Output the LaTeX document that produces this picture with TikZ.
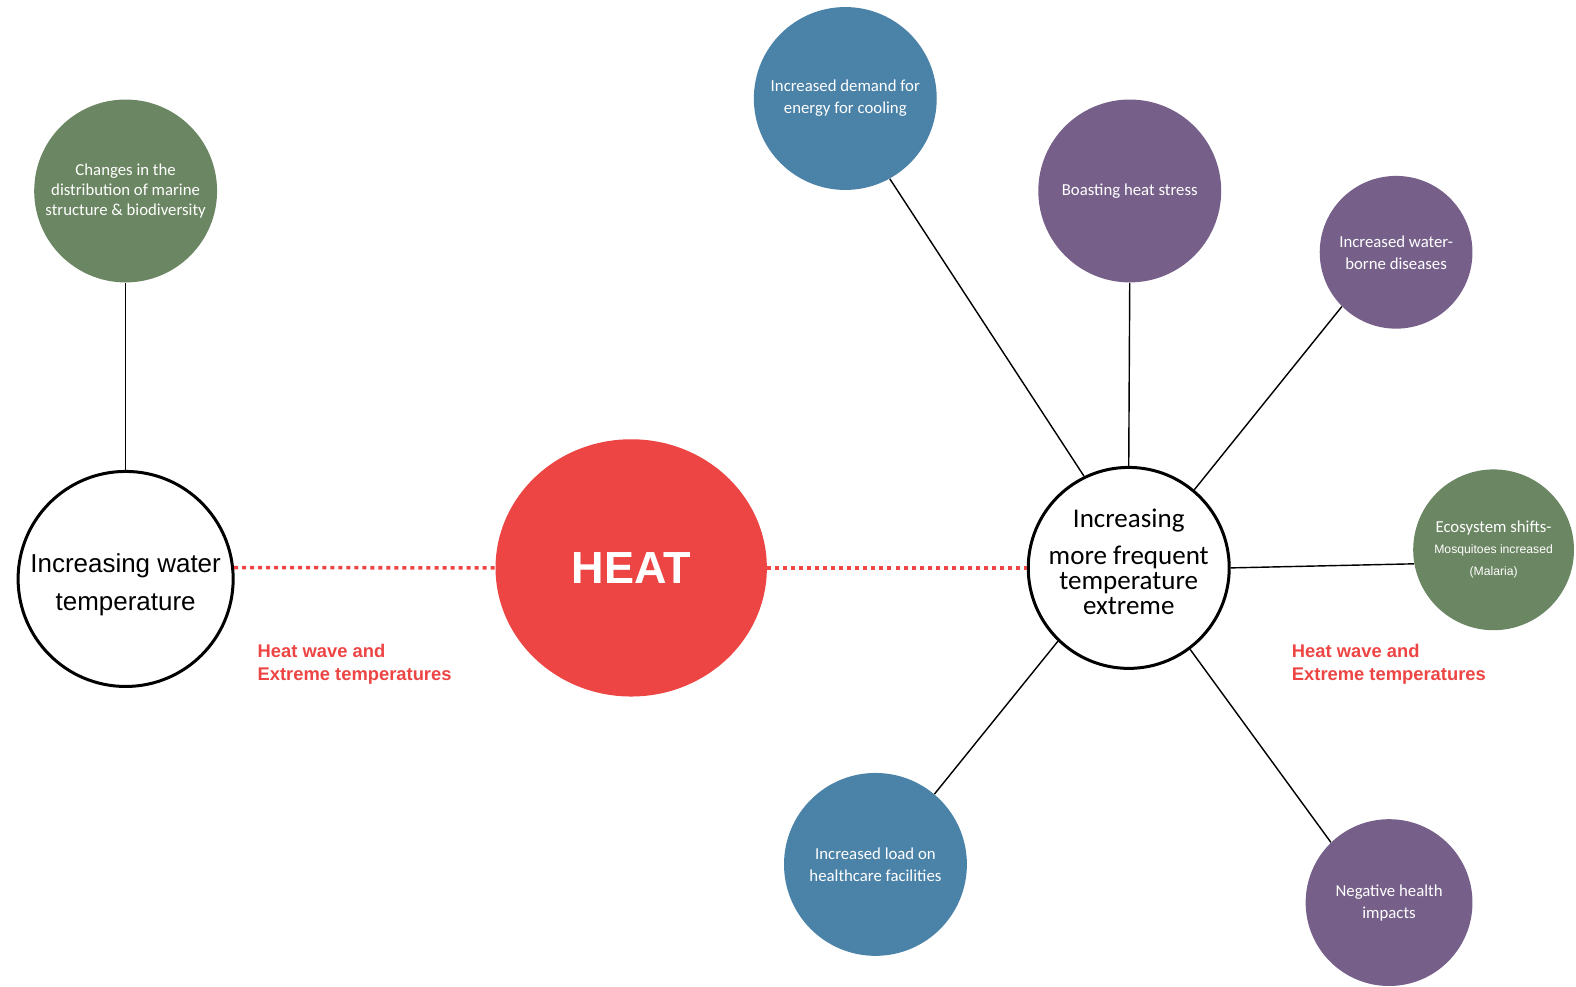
\documentclass[tikz,border=0pt]{standalone}
\usepackage{fontspec}
\setmainfont{Carlito}
\newfontfamily\arialfont{Liberation Sans}
\usetikzlibrary{shapes.geometric}
\definecolor{impactgreen}{RGB}{107,134,98}
\definecolor{impactblue}{RGB}{74,130,168}
\definecolor{impactpurple}{RGB}{118,96,138}
\definecolor{heatred}{RGB}{237,68,68}
\newcommand{\smallarial}{\arialfont\fontsize{6.9}{11.5}\selectfont}

\begin{document}
\begin{tikzpicture}[x=0.02cm, y=-0.02cm,
		impact/.style={circle, inner sep=0pt, align=center, text=white, font=\fontsize{9.5}{12.5}\selectfont},
		cause/.style={circle, draw, line width=1.7pt, fill=white, inner sep=0pt, align=center},
		link/.style={line width=0.8pt},
		heatlink/.style={heatred, line width=2pt, dash pattern=on 2.27pt off 2.27pt},
		note/.style={anchor=west, inner sep=0pt, align=left, text=heatred, font=\arialfont\bfseries\fontsize{10.4}{13}\selectfont}]
		\useasboundingbox (0,0) rectangle (1568,981);

		% Draw the heat in the middle
		\node[ellipse, fill=heatred, minimum width=5.4cm, minimum height=5.12cm, text=white,
			font=\arialfont\bfseries\fontsize{25.5}{28}\selectfont] (heat) at (628,565) {HEAT};

		% Draw the two causes (struts move the text a little)
		\node[cause, minimum size=4.28cm, font=\arialfont\fontsize{14.7}{21.5}\selectfont] (water) at (125,576)
			{\rule{0pt}{17.3pt}Increasing water\\temperature};
		\node[cause, minimum size=4cm, font=\fontsize{15.3}{14.2}\selectfont] (extreme) at (1123,565)
			{Increasing\\[7pt]more frequent\\temperature\\extreme\rule[-6.8pt]{0pt}{6.8pt}};

		% Draw the impacts
		\node[impact, fill=impactgreen, minimum size=3.64cm, font=\fontsize{9.5}{11.4}\selectfont] (marine) at (125,190)
			{Changes in the\\distribution of marine\\structure \& biodiversity};
		\node[impact, fill=impactblue, minimum size=3.64cm] (energy) at (841,98)
			{Increased demand for\\energy for cooling};
		\node[impact, fill=impactpurple, minimum size=3.64cm] (stress) at (1124,190)
			{Boasting heat stress};
		\node[impact, fill=impactpurple, minimum size=3.04cm] (disease) at (1389,251)
			{Increased water-\\borne diseases};
		\node[impact, fill=impactgreen, minimum size=3.2cm] (ecosystem) at (1486,547)
			{Ecosystem shifts-\\[-0.5pt]\smallarial Mosquitoes increased\\\smallarial (Malaria)};
		\node[impact, fill=impactblue, minimum size=3.64cm] (care) at (871,860)
			{Increased load on\\healthcare facilities};
		\node[impact, fill=impactpurple, minimum size=3.32cm] (health) at (1382,898)
			{Negative health\\impacts};

		% Draw the red notes
		\node[note] (noteleft) at (256,661) {Heat wave and\\Extreme temperatures};
		\node[note] (noteright) at (1285,661) {Heat wave and\\Extreme temperatures};

		% Draw the dotted links to the heat
		\draw[heatlink] (water.6) -- (heat.west);
		\draw[heatlink] (heat.east) -- (extreme.west);

		% Draw the lines to the impacts
		\draw[link] (marine.south) -- (water.north);
		\draw[link] (energy.-61) -- (extreme.116);
		\draw[link] (stress.south) -- (extreme.north);
		\draw[link] (disease.225) -- (extreme.50);
		\draw[link] (extreme.0) -- (ecosystem.190);
		\draw[link] (care.50) -- (extreme.226);
		\draw[link] (extreme.-53) -- (health.134);

	\end{tikzpicture}
\end{document}
